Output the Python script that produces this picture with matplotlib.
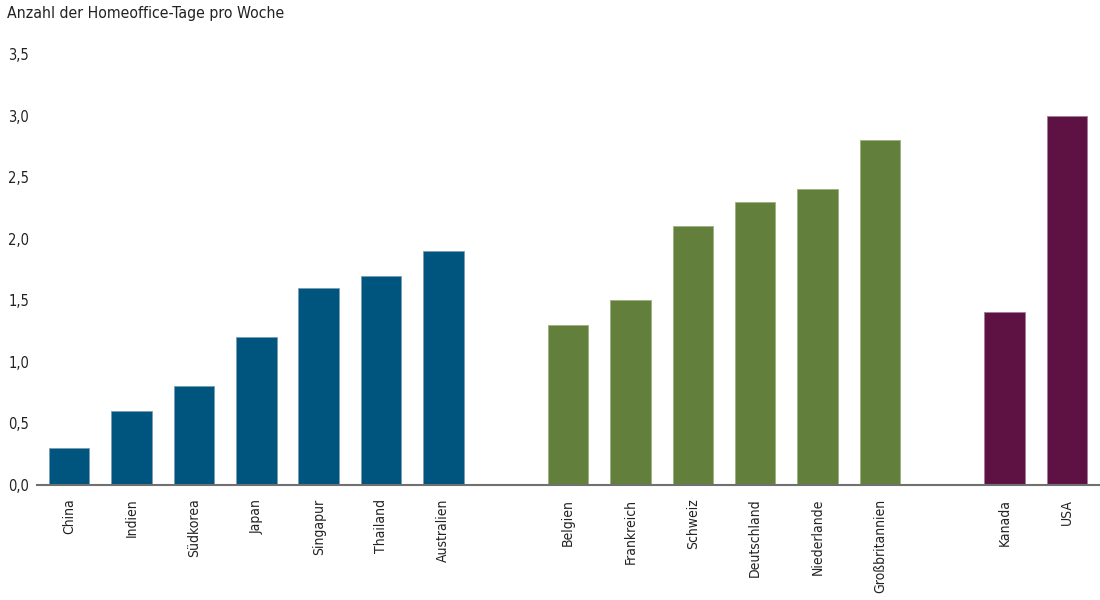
import matplotlib
matplotlib.use("Agg")
import matplotlib.pyplot as plt
import numpy as np

plt.rcParams['font.family'] = ['DejaVu Sans']
plt.rcParams['font.stretch'] = 'condensed'

asien = ['China', 'Indien', 'Südkorea', 'Japan', 'Singapur', 'Thailand', 'Australien']
asien_werte = [0.3, 0.6, 0.8, 1.2, 1.6, 1.7, 1.9]
europa = ['Belgien', 'Frankreich', 'Schweiz', 'Deutschland', 'Niederlande', 'Großbritannien']
europa_werte = [1.3, 1.5, 2.1, 2.3, 2.4, 2.8]
amerika = ['Kanada', 'USA']
amerika_werte = [1.4, 3.0]

farben = ['#00557f', '#62803c', '#5e1244']
kanten = ['#7a9db5', '#9cb07f', '#a07e96']

fig = plt.figure(figsize=(11, 6), dpi=100)
ax = fig.add_axes([0.034, 0.192, 0.966, 0.718])

pos = 0
ticks = []
labels = []
for i, (namen, werte) in enumerate([(asien, asien_werte), (europa, europa_werte), (amerika, amerika_werte)]):
    x = np.arange(len(namen)) + pos
    ax.bar(x, werte, width=0.65, color=farben[i], edgecolor=kanten[i], linewidth=0.6)
    ticks += list(x)
    labels += namen
    pos += len(namen) + 1

ax.set_xlim(-0.51, pos - 1 - 0.47)
ax.set_ylim(0, 3.5)
ax.set_yticks(np.arange(0, 3.6, 0.5))
ax.set_yticklabels([('%.1f' % v).replace('.', ',') for v in np.arange(0, 3.6, 0.5)], fontsize=10.5, color='#222222')
ax.set_xticks(ticks)
ax.set_xticklabels(labels, rotation=90, fontsize=10, color='#222222', va='top')
ax.tick_params(axis='both', length=0)
ax.tick_params(axis='x', pad=10)
ax.tick_params(axis='y', pad=6)
for s in ['top', 'right', 'left']:
    ax.spines[s].set_visible(False)
ax.spines['bottom'].set_color('#707070')
ax.spines['bottom'].set_linewidth(1.5)

fig.text(0.006, 0.978, 'Anzahl der Homeoffice-Tage pro Woche', fontsize=11.3, color='#222222', va='center')

fig.savefig('out.png', dpi=100)
